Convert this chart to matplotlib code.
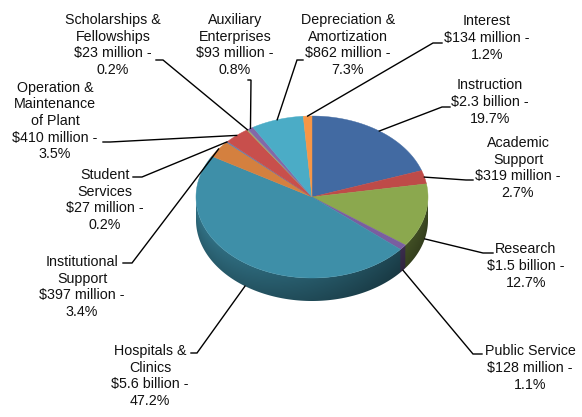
import numpy as np
import matplotlib
matplotlib.use("Agg")
import matplotlib.pyplot as plt
from matplotlib.patches import Polygon
from matplotlib.colors import to_rgb

# ---------------- data ----------------
categories = ["Instruction", "Academic\nSupport", "Research", "Public Service",
              "Hospitals &\nClinics", "Institutional\nSupport", "Student\nServices",
              "Operation &\nMaintenance\nof Plant", "Scholarships &\nFellowships",
              "Auxiliary\nEnterprises", "Depreciation &\nAmortization", "Interest"]
amounts = ["$2.3 billion", "$319 million", "$1.5 billion", "$128 million",
           "$5.6 billion", "$397 million", "$27 million", "$410 million",
           "$23 million", "$93 million", "$862 million", "$134 million"]
percents = [19.7, 2.7, 12.7, 1.1, 47.2, 3.4, 0.2, 3.5, 0.2, 0.8, 7.3, 1.2]
colors = ["#426AA2", "#BE4B48", "#8BA84E", "#7A5EA0", "#3E8FA8", "#D4803F",
          "#5A7FB5", "#C84F4C", "#9AAF6A", "#8468A8", "#4BACC6", "#F79646"]

# ---------------- layout (pixel space) ----------------
label_xy = [(490, 101), (518, 167), (526, 265), (530, 367), (150, 375), (82, 286),
            (105, 199), (55, 120), (113, 44), (235, 44), (348, 44), (487, 37)]
# leader points from the label side (text end, elbow); the pie anchor is computed
leader_pts = [[(450, 107), (442, 107)], [(473, 180), (466, 180)],
              [(493, 253), (483, 253)], [(482, 354), (473, 354)],
              [(191, 353), (197, 353)], [(123, 263), (132, 263)],
              [(133, 177), (142, 177)], [(103, 142), (110, 142)],
              [(156, 60), (163, 60)], [(248, 80), (251, 80)],
              [(303, 60), (297, 60)], [(442, 43), (433, 43)]]

W, H = 582, 417
cx, cy, rx, ry, depth = 312, 197, 116, 81, 23
line_pitch = 16.7

fig = plt.figure(figsize=(W / 100, H / 100), dpi=100)
ax = fig.add_axes([0, 0, 1, 1])
ax.axis("off")


def pt(t, dz=0.0):
    return (cx + rx * np.sin(t), cy - ry * np.cos(t) + dz)


fr = np.array(percents) / sum(percents)
bounds = np.concatenate([[0], np.cumsum(fr)]) * 2 * np.pi
rgb = np.array([to_rgb(c) for c in colors])

# ---- side wall (front half) as a shaded image clipped to the wall outline ----
ts_front = np.linspace(np.pi / 2, 3 * np.pi / 2, 361)
wall = [pt(t) for t in ts_front] + [pt(t, depth) for t in ts_front[::-1]]
wall_patch = Polygon(wall, closed=True, facecolor="none", edgecolor="none",
                     transform=ax.transData)
ax.add_patch(wall_patch)

x0, x1 = cx - rx - 1, cx + rx + 1
y0, y1 = cy - 1, cy + ry + depth + 2
nx, ny = int((x1 - x0) * 3), int((y1 - y0) * 3)
xs = x0 + (np.arange(nx) + 0.5) * (x1 - x0) / nx
ys = y0 + (np.arange(ny) + 0.5) * (y1 - y0) / ny
XX, YY = np.meshgrid(xs, ys)
u = np.clip((XX - cx) / rx, -1, 1)
T = np.pi - np.arcsin(u)
idx = np.clip(np.searchsorted(bounds, T, side="right") - 1, 0, len(percents) - 1)
ytop = cy + ry * np.sqrt(1 - u ** 2)
v = np.clip((YY - ytop) / depth, 0, 1)
f = (0.62 - 0.18 * np.sin(T)) * (1.0 - 0.18 * v)
img = np.clip(rgb[idx] * f[..., None], 0, 1)
im = ax.imshow(img, extent=(x0, x1, y1, y0), origin="upper",
               interpolation="bilinear", aspect="auto", zorder=1)
im.set_clip_path(wall_patch)

# ---- top face ----
for i in range(len(percents)):
    a0, a1 = bounds[i], bounds[i + 1]
    n = max(2, int(np.degrees(a1 - a0) * 2))
    ts = np.linspace(a0, a1, n + 1)
    poly = [(cx, cy)] + [pt(t) for t in ts]
    ax.add_patch(Polygon(poly, closed=True, facecolor=colors[i],
                         edgecolor=colors[i], linewidth=0.3, zorder=2))

# ---- labels and leader lines ----
for i in range(len(percents)):
    lines = categories[i].split("\n") + [amounts[i] + " -", f"{percents[i]:.1f}%"]
    lx, ly = label_xy[i]
    n = len(lines)
    for k, s in enumerate(lines):
        yy = ly + (k - (n - 1) / 2) * line_pitch + 5
        ax.text(lx, yy, s, ha="center", va="baseline", fontsize=10.3,
                family=["Liberation Sans", "DejaVu Sans"], color="#111111", zorder=5)
    tm = 0.5 * (bounds[i] + bounds[i + 1])
    front = np.pi / 2 < tm < 3 * np.pi / 2
    anchor = pt(tm, depth if front else 0)
    lxs = [p[0] for p in leader_pts[i]] + [anchor[0]]
    lys = [p[1] for p in leader_pts[i]] + [anchor[1]]
    ax.plot(lxs, lys, color="black", lw=1.0, zorder=4, solid_joinstyle="miter")

ax.set_xlim(0, W)
ax.set_ylim(H, 0)
fig.savefig("out.png", dpi=100, facecolor="white")
